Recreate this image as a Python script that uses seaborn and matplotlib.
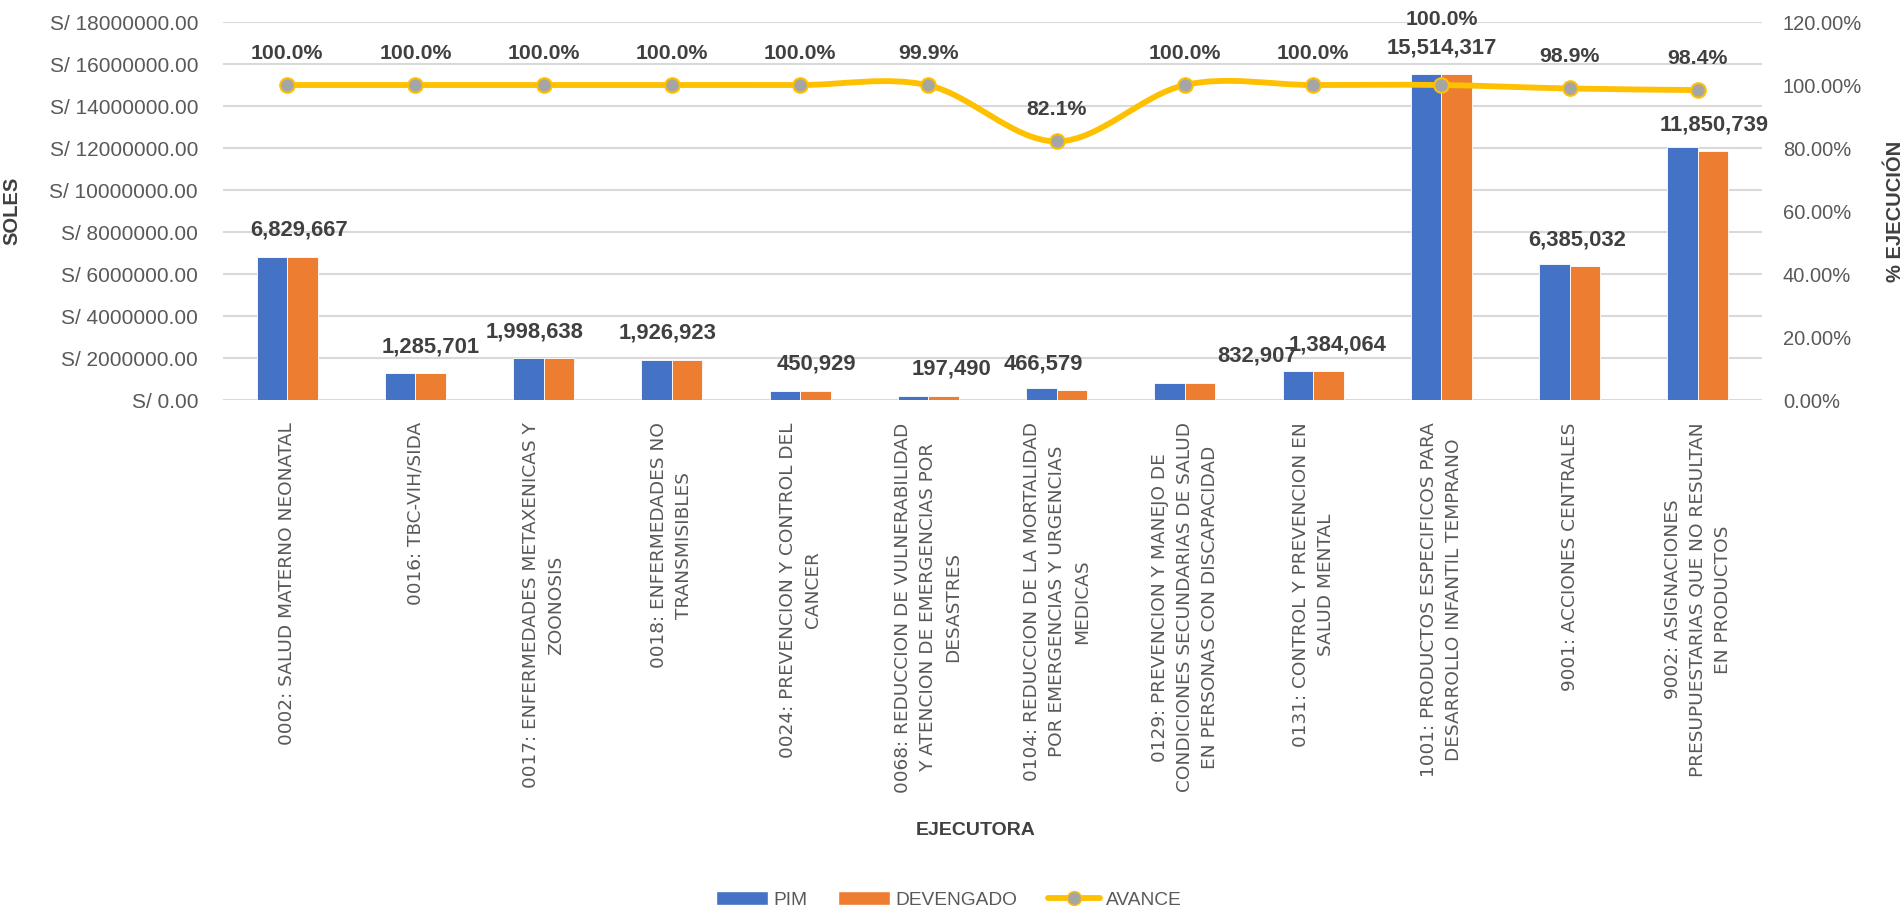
import matplotlib
matplotlib.use("Agg")
import matplotlib.pyplot as plt
from matplotlib.path import Path
from matplotlib.patches import PathPatch
from matplotlib.lines import Line2D
from matplotlib.patches import Patch
import numpy as np
import pandas as pd
import seaborn as sns

categories = [
    "0002: SALUD MATERNO NEONATAL",
    "0016: TBC-VIH/SIDA",
    "0017: ENFERMEDADES METAXENICAS Y\nZOONOSIS",
    "0018: ENFERMEDADES NO\nTRANSMISIBLES",
    "0024: PREVENCION Y CONTROL DEL\nCANCER",
    "0068: REDUCCION DE VULNERABILIDAD\nY ATENCION DE EMERGENCIAS POR\nDESASTRES",
    "0104: REDUCCION DE LA MORTALIDAD\nPOR EMERGENCIAS Y URGENCIAS\nMEDICAS",
    "0129: PREVENCION Y MANEJO DE\nCONDICIONES SECUNDARIAS DE SALUD\nEN PERSONAS CON DISCAPACIDAD",
    "0131: CONTROL Y PREVENCION EN\nSALUD MENTAL",
    "1001: PRODUCTOS ESPECIFICOS PARA\nDESARROLLO INFANTIL TEMPRANO",
    "9001: ACCIONES CENTRALES",
    "9002: ASIGNACIONES\nPRESUPUESTARIAS QUE NO RESULTAN\nEN PRODUCTOS",
]
pim = [6830100, 1286000, 1999100, 1927300, 451000, 197700, 568300,
       833100, 1384500, 15514600, 6456000, 12043000]
devengado = [6829667, 1285701, 1998638, 1926923, 450929, 197490, 466579,
             832907, 1384064, 15514317, 6385032, 11850739]
avance = [1.000, 1.000, 1.000, 1.000, 1.000, 0.999, 0.821,
          1.000, 1.000, 1.000, 0.989, 0.984]

# label nudges (style only)
bar_lbl_dx = [0.09, 0.12, -0.07, -0.03, 0.13, 0.18, -0.10, 0.56, 0.19, 0.0, 0.06, 0.13]
pct_lbl_dy = [23, 23, 23, 23, 23, 23, 23, 23, 23, 47, 23, 23]

C_PIM = "#4472C4"
C_DEV = "#ED7D31"
C_AV = "#FFC000"
GRID = "#D9D9D9"
TXT = "#595959"
LBL = "#404040"

sns.set_theme(style="white")
plt.rcParams["font.family"] = ["Liberation Sans", "DejaVu Sans"]

df = pd.DataFrame({
    "cat": categories * 2,
    "serie": ["PIM"] * len(categories) + ["DEVENGADO"] * len(categories),
    "valor": pim + devengado,
})

fig = plt.figure(figsize=(19.03, 9.10), dpi=100)
ax = fig.add_axes([0.1172, 0.5604, 0.8087, 0.4154])
sns.barplot(data=df, x="cat", y="valor", hue="serie", order=categories,
            palette={"PIM": C_PIM, "DEVENGADO": C_DEV}, width=0.476, gap=0,
            saturation=1, ax=ax, legend=False, edgecolor="white", linewidth=0.6)

ax.set_ylim(0, 18000000)
ax.set_xlim(-0.5, len(categories) - 0.5)
ax.set_yticks(np.arange(0, 18000001, 2000000))
ax.set_yticklabels([f"S/ {v:.2f}" for v in np.arange(0, 18000001, 2000000)],
                   fontsize=15, color=TXT)
ax.yaxis.grid(True, color=GRID, linewidth=1.5)
ax.set_axisbelow(True)
for s in ax.spines.values():
    s.set_visible(False)
ax.tick_params(axis="both", length=0)
ax.tick_params(axis="y", pad=18)
ax.set_xticks(range(len(categories)))
ax.set_xticklabels(categories, rotation=90, fontsize=13.3, color=TXT,
                   family="DejaVu Sans", ha="center", va="top",
                   multialignment="center", linespacing=1.5)
ax.tick_params(axis="x", pad=16)
ax.set_xlabel("EJECUTORA", fontsize=14, fontweight="bold", color=LBL)
ax.xaxis.set_label_coords(0.489, -1.117)
ax.set_ylabel("SOLES", fontsize=14.5, fontweight="bold", color=LBL)
ax.yaxis.set_label_coords(-0.131, 0.5)

for i, v in enumerate(devengado):
    ax.annotate(f"{v:,}", (i + bar_lbl_dx[i], v), xytext=(0, 19),
                textcoords="offset points", ha="center", va="center",
                fontsize=15.8, fontweight="bold", color=LBL)

ax2 = ax.twinx()
ax2.set_ylim(0, 1.2)
ax2.set_yticks(np.arange(0, 1.21, 0.2))
ax2.set_yticklabels([f"{v * 100:.2f}%" for v in np.arange(0, 1.21, 0.2)],
                    fontsize=14.5, color=TXT)
for s in ax2.spines.values():
    s.set_visible(False)
ax2.tick_params(axis="y", length=0, pad=15)
ax2.set_ylabel("% EJECUCIÓN", fontsize=14.5, fontweight="bold", color=LBL)
ax2.yaxis.set_label_coords(1.0805, 0.5)

# smooth (Excel-like) curve through the avance points
xs = np.arange(len(avance), dtype=float)
ys = np.array(avance)
verts = [(xs[0], ys[0])]
codes = [Path.MOVETO]
for i in range(len(xs) - 1):
    p0 = np.array([xs[max(i - 1, 0)], ys[max(i - 1, 0)]])
    p1 = np.array([xs[i], ys[i]])
    p2 = np.array([xs[i + 1], ys[i + 1]])
    p3 = np.array([xs[min(i + 2, len(xs) - 1)], ys[min(i + 2, len(xs) - 1)]])
    c1 = p1 + (p2 - p0) / 6
    c2 = p2 - (p3 - p1) / 6
    verts += [tuple(c1), tuple(c2), tuple(p2)]
    codes += [Path.CURVE4] * 3
ax2.add_patch(PathPatch(Path(verts, codes), facecolor="none", edgecolor=C_AV,
                        linewidth=4.2, capstyle="round", zorder=3))
sns.scatterplot(x=xs, y=ys, ax=ax2, color="#A5A5A5", edgecolor=C_AV,
                linewidth=1.5, s=110, zorder=4, legend=False)

for i, v in enumerate(avance):
    ax2.annotate(f"{v * 100:.1f}%", (i, v), xytext=(0, pct_lbl_dy[i]),
                 textcoords="offset points", ha="center", va="center",
                 fontsize=15.3, fontweight="bold", color=LBL)

handles = [
    Patch(facecolor=C_PIM, label="PIM"),
    Patch(facecolor=C_DEV, label="DEVENGADO"),
    Line2D([0], [0], color=C_AV, linewidth=4.2, marker="o", markersize=10,
           markerfacecolor="#A5A5A5", markeredgecolor=C_AV, label="AVANCE"),
]
leg = fig.legend(handles=handles, loc="center", bbox_to_anchor=(0.4985, 0.011),
                 ncol=3, frameon=False, fontsize=13.8, handlelength=2.7,
                 handleheight=0.7, columnspacing=1.6, handletextpad=0.3)
for t in leg.get_texts():
    t.set_color(TXT)

fig.savefig("out.png", dpi=100)
